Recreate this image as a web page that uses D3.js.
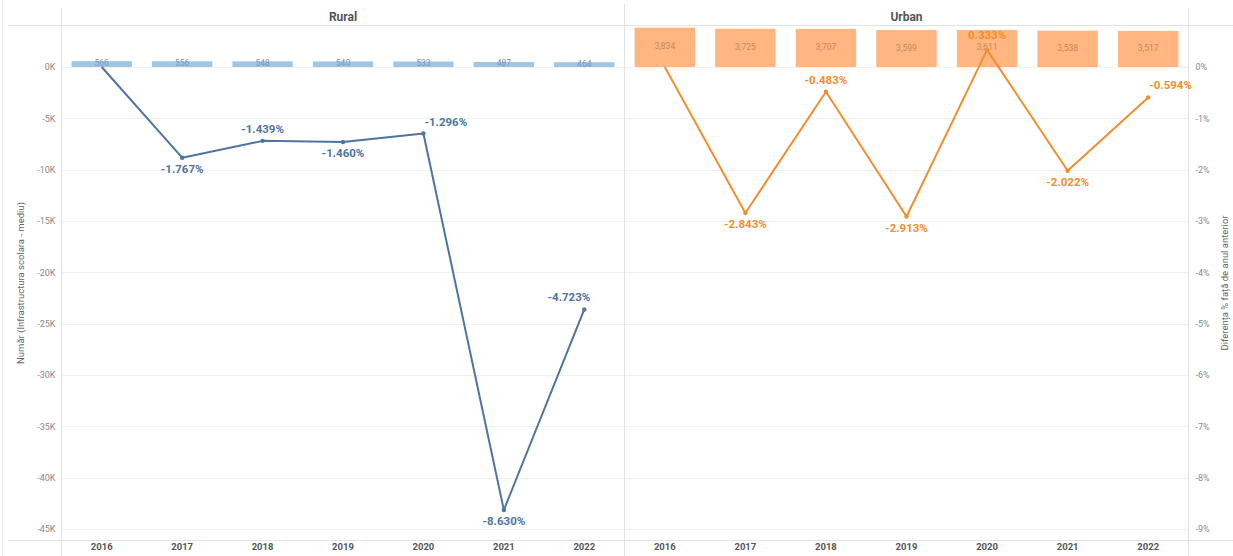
<!DOCTYPE html>
<html>
<head>
<meta charset="utf-8">
<script src="https://cdn.jsdelivr.net/npm/d3@7"></script>
<style>
  html, body { margin: 0; padding: 0; background: #fff; }
  svg { display: block; font-family: Roboto, "Noto Sans", sans-serif; }
</style>
</head>
<body>
<svg id="chart" width="1233" height="556"></svg>
<script>
// ---- data ----
const years = ["2016", "2017", "2018", "2019", "2020", "2021", "2022"];
const panels = ["Rural", "Urban"];
const ruralCount = [566, 556, 548, 540, 533, 487, 464];
const urbanCount = [3834, 3725, 3707, 3599, 3611, 3538, 3517];
const ruralPct = [0, -1.767, -1.439, -1.460, -1.296, -8.630, -4.723];
const urbanPct = [0, -2.843, -0.483, -2.913, 0.333, -2.022, -0.594];
const countTicks = [0, -5000, -10000, -15000, -20000, -25000, -30000, -35000, -40000, -45000];
const pctTicks = [0, -1, -2, -3, -4, -5, -6, -7, -8, -9];
// label placement: "b" below, "a" above, "ar" above-right, "al" above-left
const ruralLabelPos = [null, "b", "a", "b", "ar", "b", "al"];
const urbanLabelPos = [null, "b", "a", "b", "a", "b", "ar"];

const leftTitle = "Număr (Infrastructura scolara - mediu)";
const rightTitle = "Diferența % față de anul anterior";

// ---- layout ----
const svg = d3.select("#chart");
const axisL = 61.5, divider = 624.5, axisR = 1188.5;
const plotTop = 26, plotBottom = 540;

const yCount = d3.scaleLinear().domain([0, -45000]).range([67, 529]);
const yPct = d3.scaleLinear().domain([0, -9]).range([67, 529]);

const panelRanges = [[axisL, divider], [divider, axisR]];
const xScales = panelRanges.map(r => d3.scaleBand().domain(years).range(r).paddingInner(0.25).paddingOuter(0.125));

const colors = {
  Rural: { bar: "#a0c6e6", line: "#4e74a3", barText: "#7b97b8" },
  Urban: { bar: "#ffb680", line: "#f28e2b", barText: "#c8895a" }
};
const hyph = s => s.replace(/\u2212/g, "-");

// clip path for plot area
svg.append("defs").append("clipPath").attr("id", "plotclip")
  .append("rect").attr("x", axisL).attr("y", plotTop).attr("width", axisR - axisL).attr("height", plotBottom - plotTop);

// gridlines
svg.append("g").selectAll("line").data(countTicks).join("line")
  .attr("x1", axisL).attr("x2", axisR)
  .attr("y1", d => Math.round(yCount(d)) + 0.5).attr("y2", d => Math.round(yCount(d)) + 0.5)
  .attr("stroke", "#f0f0f0").attr("stroke-width", 1);

// frame lines
const frame = svg.append("g").attr("stroke", "#e2e2e2").attr("stroke-width", 1);
frame.append("line").attr("x1", 8).attr("x2", 1233).attr("y1", 25.5).attr("y2", 25.5);
frame.append("line").attr("x1", 8).attr("x2", 1233).attr("y1", plotBottom + 0.5).attr("y2", plotBottom + 0.5);
frame.append("line").attr("x1", axisL).attr("x2", axisL).attr("y1", 8).attr("y2", 556);
frame.append("line").attr("x1", divider).attr("x2", divider).attr("y1", 4).attr("y2", 556);
frame.append("line").attr("x1", axisR).attr("x2", axisR).attr("y1", 8).attr("y2", 556);
frame.append("line").attr("x1", 2.5).attr("x2", 2.5).attr("y1", 0).attr("y2", 556).attr("stroke", "#eeeeee");

// panel headers
svg.append("g").selectAll("text").data(panels).join("text")
  .attr("x", (d, i) => (panelRanges[i][0] + panelRanges[i][1]) / 2)
  .attr("y", 21)
  .attr("text-anchor", "middle")
  .attr("font-size", 12).attr("font-weight", 700).attr("fill", "#555")
  .text(d => d);

// left axis
const gL = svg.append("g").attr("transform", `translate(${axisL - 6},0)`)
  .call(d3.axisLeft(yCount).tickValues(countTicks).tickSize(0).tickPadding(0)
    .tickFormat(d => d === 0 ? "0K" : (d / 1000) + "K"));
gL.select(".domain").remove();
gL.selectAll("text").attr("font-size", 9).attr("fill", "#8a8a8a").attr("font-family", "Roboto, sans-serif");

// right axis
const gR = svg.append("g").attr("transform", `translate(${axisR + 7},0)`)
  .call(d3.axisRight(yPct).tickValues(pctTicks).tickSize(0).tickPadding(0)
    .tickFormat(d => d + "%"));
gR.select(".domain").remove();
gR.selectAll("text").attr("font-size", 9).attr("fill", "#8a8a8a").attr("font-family", "Roboto, sans-serif");

// axis titles
svg.append("text").attr("transform", `translate(24,${(plotTop + plotBottom) / 2}) rotate(-90)`)
  .attr("text-anchor", "middle").attr("font-size", 9.5).attr("fill", "#666").text(leftTitle);
svg.append("text").attr("transform", `translate(1228,${(plotTop + plotBottom) / 2}) rotate(-90)`)
  .attr("text-anchor", "middle").attr("font-size", 9.5).attr("fill", "#666").text(rightTitle);

// panels
const panelData = [
  { name: "Rural", counts: ruralCount, pcts: ruralPct, pos: ruralLabelPos },
  { name: "Urban", counts: urbanCount, pcts: urbanPct, pos: urbanLabelPos }
];

panelData.forEach((p, pi) => {
  const x = xScales[pi];
  const c = colors[p.name];
  const g = svg.append("g").attr("clip-path", "url(#plotclip)");

  // year labels
  svg.append("g").selectAll("text").data(years).join("text")
    .attr("x", d => x(d) + x.bandwidth() / 2)
    .attr("y", 550)
    .attr("text-anchor", "middle")
    .attr("font-size", 9.5).attr("font-weight", 700).attr("fill", "#555")
    .text(d => d);

  // bars
  const bars = years.map((y, i) => ({ year: y, v: p.counts[i] }));
  g.append("g").selectAll("rect").data(bars).join("rect")
    .attr("x", d => x(d.year))
    .attr("width", x.bandwidth())
    .attr("y", d => yCount(d.v))
    .attr("height", d => yCount(0) - yCount(d.v))
    .attr("fill", c.bar);

  g.append("g").selectAll("text").data(bars).join("text")
    .attr("x", d => x(d.year) + x.bandwidth() / 2)
    .attr("y", d => Math.max((yCount(d.v) + yCount(0)) / 2, plotTop + 2) - 1)
    .attr("dy", "0.35em")
    .attr("text-anchor", "middle")
    .attr("font-size", 8.5).attr("fill", c.barText)
    .text(d => d3.format(",")(d.v));

  // line
  const pts = years.map((y, i) => ({ year: y, v: p.pcts[i], pos: p.pos[i] }));
  const line = d3.line().x(d => x(d.year) + x.bandwidth() / 2).y(d => yPct(d.v));
  g.append("path").datum(pts).attr("d", line)
    .attr("fill", "none").attr("stroke", c.line).attr("stroke-width", 2).attr("stroke-linejoin", "round");
  g.append("g").selectAll("circle").data(pts.slice(1)).join("circle")
    .attr("cx", d => x(d.year) + x.bandwidth() / 2)
    .attr("cy", d => yPct(d.v))
    .attr("r", 2.2).attr("fill", c.line);

  // line labels
  const lab = pts.filter(d => d.pos);
  svg.append("g").selectAll("text").data(lab).join("text")
    .attr("x", d => {
      const cx = x(d.year) + x.bandwidth() / 2;
      if (d.pos === "ar") return cx + 1;
      if (d.pos === "al") return cx + 6;
      return cx;
    })
    .attr("y", d => {
      const cy = yPct(d.v);
      return d.pos === "b" ? cy + 15 : cy - (d.v > 0 ? 11 : 8);
    })
    .attr("text-anchor", d => d.pos === "ar" ? "start" : d.pos === "al" ? "end" : "middle")
    .attr("font-size", 11.5).attr("font-weight", 700).attr("fill", c.line)
    .text(d => hyph(d3.format(".3f")(d.v)) + "%");
});
</script>
</body>
</html>
